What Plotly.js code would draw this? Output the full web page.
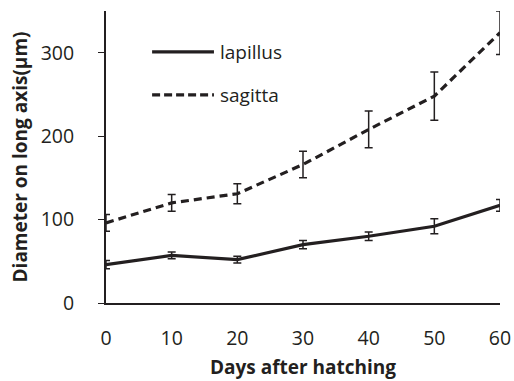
<!DOCTYPE html>
<html><head><meta charset="utf-8">
<script src="https://cdn.plot.ly/plotly-3.0.1.min.js"></script>
<style>html,body{margin:0;padding:0;background:#fff}#chart{width:514px;height:381px}</style>
</head><body><div id="chart"></div>
<script>
const days = [0, 10, 20, 30, 40, 50, 60];
const lapillus = [46, 57, 52, 70, 80, 92, 117];
const lapillusErr = [5, 4, 4, 5, 5, 9, 7];
const sagitta = [96, 120, 131, 166, 208, 248, 324];
const sagittaErr = [10, 10, 12, 16, 22, 29, 26];
const xTickLabels = ['0','10','20','30','40','50','60'];
const seriesNames = ['lapillus', 'sagitta'];

const ink = '#231f20';
const font = '"Open Sans", sans-serif';

const traces = [
  {x: days, y: lapillus, name: seriesNames[0], mode: 'lines', type: 'scatter',
   line: {color: ink, width: 3.2, dash: 'solid'},
   error_y: {type: 'data', array: lapillusErr, visible: true, color: ink, thickness: 1.5, width: 4}},
  {x: days, y: sagitta, name: seriesNames[1], mode: 'lines', type: 'scatter',
   line: {color: ink, width: 3.2, dash: '8px,5px'},
   error_y: {type: 'data', array: sagittaErr, visible: true, color: ink, thickness: 1.5, width: 4}}
];

const legendY = [0.86, 0.713];
const shapes = [], annotations = [];
seriesNames.forEach((n, i) => {
  shapes.push({type: 'line', xref: 'paper', yref: 'paper', x0: 0.117, x1: 0.274, y0: legendY[i], y1: legendY[i],
    line: {color: ink, width: 3.2, dash: i === 0 ? 'solid' : '8px,4px'}});
  annotations.push({xref: 'paper', yref: 'paper', x: 0.283, y: legendY[i], xanchor: 'left', yanchor: 'middle',
    text: n, showarrow: false, font: {family: font, size: 19, color: ink}});
});

const layout = {
  width: 514, height: 381,
  margin: {l: 106, r: 14, t: 11, b: 78},
  paper_bgcolor: '#fff', plot_bgcolor: '#fff',
  showlegend: false,
  font: {family: font, color: ink},
  xaxis: {
    range: [0, 60], tickvals: days, ticktext: xTickLabels, ticks: '',
    showgrid: false, zeroline: false, showline: true, linecolor: ink, linewidth: 2,
    tickfont: {family: font, size: 19.5, color: ink}, ticklabelstandoff: 17,
    title: {text: '<b>Days after hatching</b>', font: {family: font, size: 19, color: ink}, standoff: 10}
  },
  yaxis: {
    range: [0, 350], tickvals: [0, 100, 200, 300], ticks: 'outside', ticklen: 6, tickwidth: 1, tickcolor: ink,
    showgrid: false, zeroline: false, showline: true, linecolor: ink, linewidth: 2,
    tickfont: {family: font, size: 19.5, color: ink}, ticklabelstandoff: 20,
    title: {text: '<b>Diameter on long axis(μm)</b>', font: {family: font, size: 19, color: ink}, standoff: 8}
  },
  shapes: shapes, annotations: annotations
};

Plotly.newPlot('chart', traces, layout, {displayModeBar: false, staticPlot: true});
</script></body></html>
